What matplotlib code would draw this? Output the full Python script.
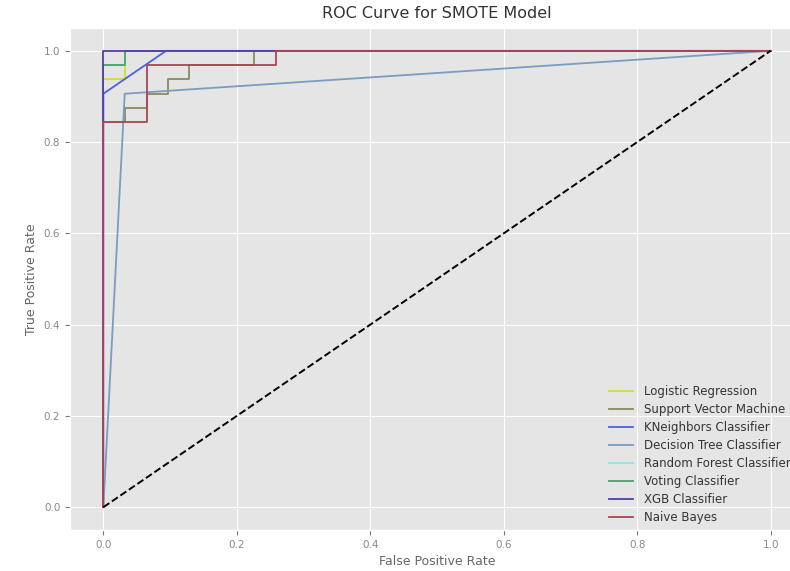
import numpy as np
import matplotlib
matplotlib.use("Agg")
import matplotlib.pyplot as plt

plt.style.use("ggplot")

# ROC points (fpr steps of 1/31, tpr steps of 1/32)
models = ["Logistic Regression", "Support Vector Machine", "KNeighbors Classifier",
          "Decision Tree Classifier", "Random Forest Classifier", "Voting Classifier",
          "XGB Classifier", "Naive Bayes"]

fpr_lr = [0, 0, 0.032, 0.032, 1]
tpr_lr = [0, 0.938, 0.938, 1, 1]

fpr_svm = [0, 0, 0.032, 0.032, 0.065, 0.065, 0.097, 0.097, 0.129, 0.129, 0.226, 0.226, 1]
tpr_svm = [0, 0.844, 0.844, 0.875, 0.875, 0.906, 0.906, 0.938, 0.938, 0.969, 0.969, 1, 1]

fpr_knn = [0, 0, 0.094, 1]
tpr_knn = [0, 0.906, 1, 1]

fpr_dt = [0, 0.032, 1]
tpr_dt = [0, 0.906, 1]

fpr_rf = [0, 0, 0.032, 0.032, 1]
tpr_rf = [0, 0.969, 0.969, 1, 1]

fpr_vc = [0, 0, 0.032, 0.032, 1]
tpr_vc = [0, 0.969, 0.969, 1, 1]

fpr_xgb = [0, 0, 1]
tpr_xgb = [0, 1, 1]

fpr_nb = [0, 0, 0.065, 0.065, 0.258, 0.258, 1]
tpr_nb = [0, 0.844, 0.844, 0.969, 0.969, 1, 1]

fprs = [fpr_lr, fpr_svm, fpr_knn, fpr_dt, fpr_rf, fpr_vc, fpr_xgb, fpr_nb]
tprs = [tpr_lr, tpr_svm, tpr_knn, tpr_dt, tpr_rf, tpr_vc, tpr_xgb, tpr_nb]
colors = ["#d4dc3c", "#8c8a5a", "#4a62e0", "#7a9cc0", "#8ce8dc", "#4f9e6c", "#5a3ca8", "#a84656"]

fig = plt.figure(figsize=(7.9, 5.71), dpi=100)
# axes run past the right edge like in the cropped original
ax = fig.add_axes([70 / 790, 41 / 571, 734 / 790, 502 / 571])

for f, t, c, m in zip(fprs, tprs, colors, models):
    ax.plot(f, t, color=c, linewidth=1.3, label=m)

ax.plot([0, 1], [0, 1], "k--", linewidth=1.4)

ax.set_xlim(-0.05, 1.05)
ax.set_ylim(-0.05, 1.05)
ax.set_xticks(np.arange(0, 1.01, 0.2))
ax.set_yticks(np.arange(0, 1.01, 0.2))
ax.tick_params(labelsize=7.5, colors="#777777", labelcolor="#888888")
ax.set_xlabel("False Positive Rate", fontsize=9, color="#666666", labelpad=4)
ax.set_ylabel("True Positive Rate", fontsize=9, color="#666666")
ax.set_title("ROC Curve for SMOTE Model", fontsize=11.5, color="#333333", pad=7)
ax.legend(loc="lower right", fontsize=8.5, frameon=False, labelspacing=0.42,
          handlelength=2.1, handletextpad=0.9, borderaxespad=0.1,
          labelcolor="#333333", bbox_to_anchor=(0.99, 0.0))

fig.savefig("out.png", dpi=100)
